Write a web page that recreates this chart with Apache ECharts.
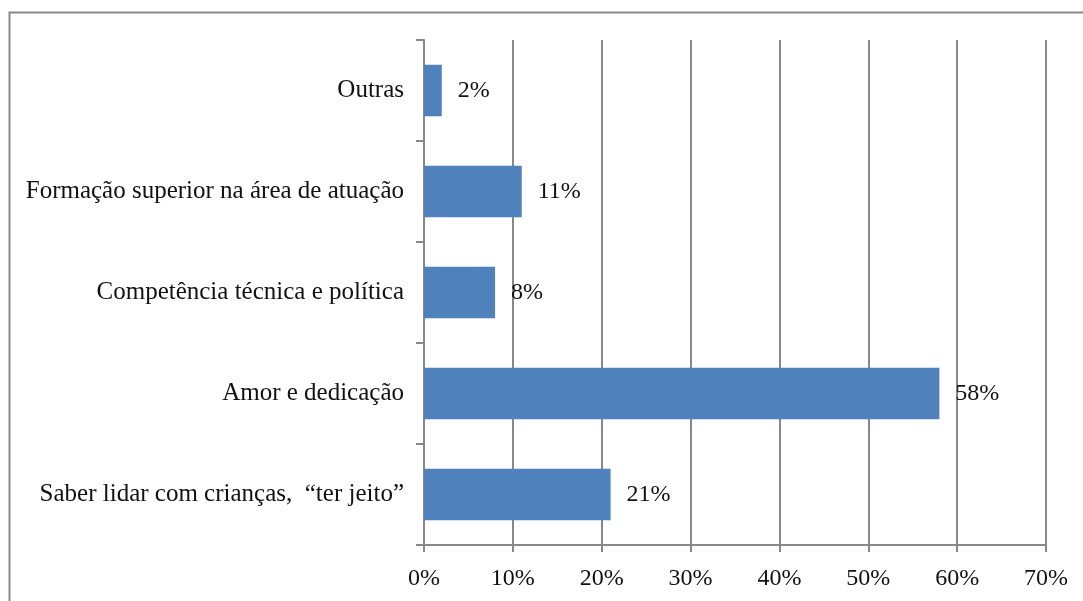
<!DOCTYPE html>
<html><head><meta charset="utf-8">
<script src="https://cdn.jsdelivr.net/npm/echarts@6/dist/echarts.min.js"></script>
<style>html,body{margin:0;padding:0;background:#fff}#c{width:1083px;height:601px}</style>
</head><body><div id="c"></div>
<script>
const categories = ["Saber lidar com crianças,  “ter jeito”", "Amor e dedicação", "Competência técnica e política", "Formação superior na área de atuação", "Outras"];
const values = [21, 58, 8, 11, 2];
const xTicks = [0, 10, 20, 30, 40, 50, 60, 70];

const chart = echarts.init(document.getElementById('c'), null, {renderer: 'canvas'});
const font = '"Liberation Serif", "Times New Roman", serif';
chart.setOption({
  animation: false,
  backgroundColor: '#fff',
  graphic: [{type: 'rect', shape: {x: 9.5, y: 12.5, width: 1200, height: 700}, style: {fill: 'none', stroke: '#898989', lineWidth: 2}, silent: true}],
  grid: {left: 424, right: 37, top: 40, bottom: 56, containLabel: false},
  xAxis: {
    type: 'value', min: xTicks[0], max: xTicks[xTicks.length - 1], interval: 10,
    axisLine: {show: true, lineStyle: {color: '#888', width: 2}},
    axisTick: {show: true, length: 7, lineStyle: {color: '#888', width: 2}},
    splitLine: {show: true, lineStyle: {color: '#888', width: 2}},
    axisLabel: {formatter: v => v + '%', color: '#111', fontFamily: font, fontSize: 24, margin: 22}
  },
  yAxis: {
    type: 'category', data: categories,
    axisLine: {show: true, lineStyle: {color: '#888', width: 2}},
    axisTick: {show: true, length: 8, inside: false, lineStyle: {color: '#888', width: 2}},
    axisLabel: {color: '#111', fontFamily: font, fontSize: 25, margin: 20}
  },
  series: [{
    type: 'bar', data: values, barWidth: '51%',
    itemStyle: {color: '#4F81BD'},
    label: {show: true, position: 'right', distance: 16, formatter: p => p.value + '%', color: '#111', fontFamily: font, fontSize: 24}
  }]
});
</script></body></html>
